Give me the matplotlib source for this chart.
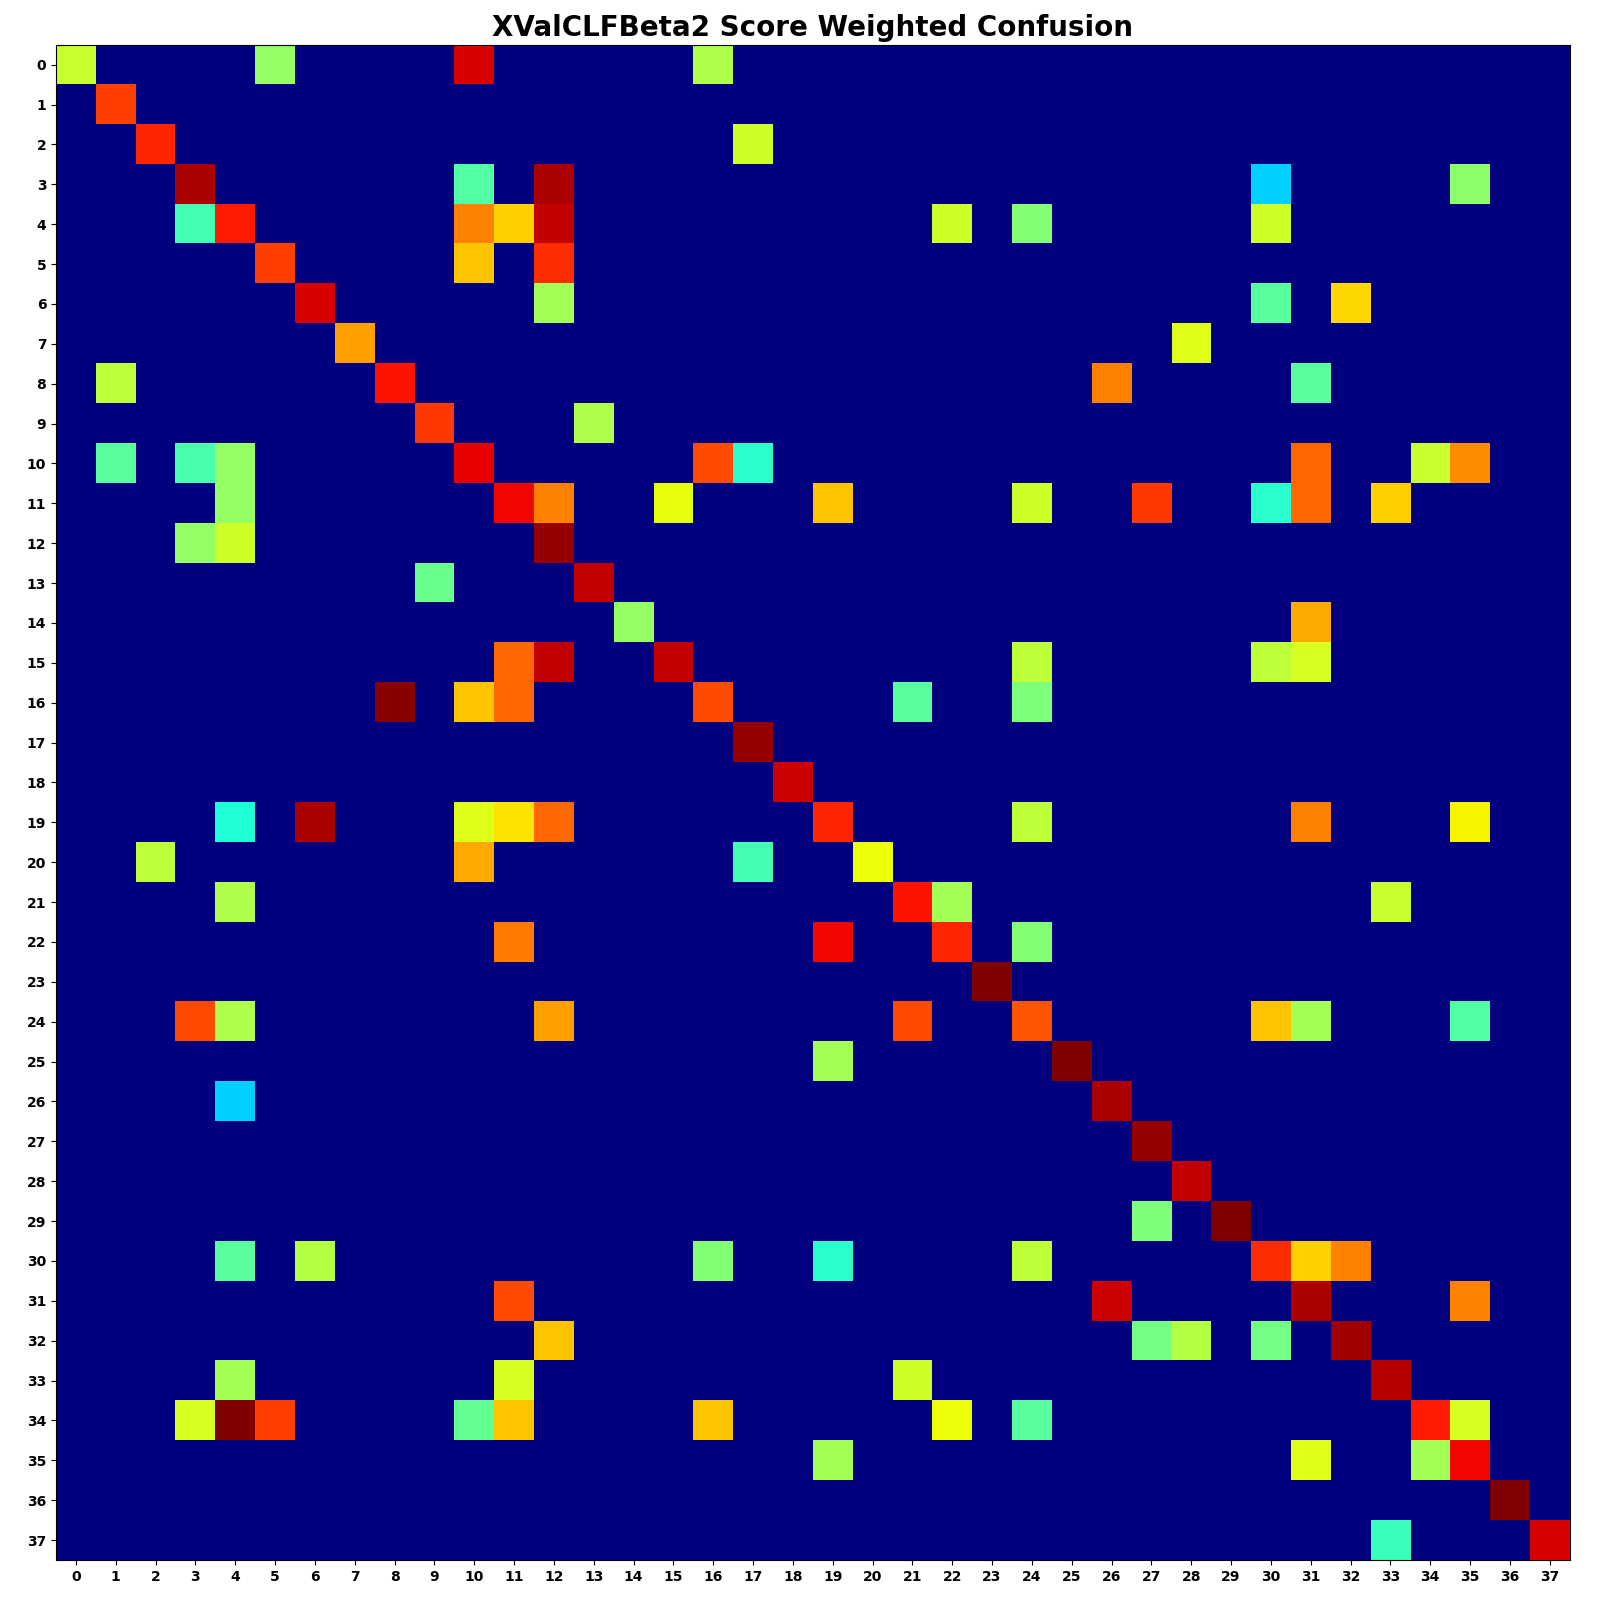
import numpy as np
import matplotlib
matplotlib.use("Agg")
import matplotlib.pyplot as plt

n_classes = 38
labels = [str(i) for i in range(n_classes)]

# nonzero cells of the weighted confusion matrix (row = true, col = predicted)
rows = [0, 0, 0, 0,
        1,
        2, 2,
        3, 3, 3, 3, 3,
        4, 4, 4, 4, 4, 4, 4, 4,
        5, 5, 5,
        6, 6, 6, 6,
        7, 7,
        8, 8, 8, 8,
        9, 9,
        10, 10, 10, 10, 10, 10, 10, 10, 10,
        11, 11, 11, 11, 11, 11, 11, 11, 11, 11,
        12, 12, 12,
        13, 13,
        14, 14,
        15, 15, 15, 15, 15, 15,
        16, 16, 16, 16, 16, 16,
        17,
        18,
        19, 19, 19, 19, 19, 19, 19, 19, 19,
        20, 20, 20, 20,
        21, 21, 21, 21,
        22, 22, 22, 22,
        23,
        24, 24, 24, 24, 24, 24, 24, 24,
        25, 25,
        26, 26,
        27,
        28,
        29, 29,
        30, 30, 30, 30, 30, 30, 30, 30,
        31, 31, 31, 31,
        32, 32, 32, 32, 32,
        33, 33, 33, 33,
        34, 34, 34, 34, 34, 34, 34, 34, 34, 34,
        35, 35, 35, 35,
        36,
        37, 37]
cols = [0, 5, 10, 16,
        1,
        2, 17,
        3, 10, 12, 30, 35,
        3, 4, 10, 11, 12, 22, 24, 30,
        5, 10, 12,
        6, 12, 30, 32,
        7, 28,
        1, 8, 26, 31,
        9, 13,
        1, 3, 4, 10, 16, 17, 31, 34, 35,
        4, 11, 12, 15, 19, 24, 27, 30, 31, 33,
        3, 4, 12,
        9, 13,
        14, 31,
        11, 12, 15, 24, 30, 31,
        8, 10, 11, 16, 21, 24,
        17,
        18,
        4, 6, 10, 11, 12, 19, 24, 31, 35,
        2, 10, 17, 20,
        4, 21, 22, 33,
        11, 19, 22, 24,
        23,
        3, 4, 12, 21, 24, 30, 31, 35,
        19, 25,
        4, 26,
        27,
        28,
        27, 29,
        4, 6, 16, 19, 24, 30, 31, 32,
        11, 26, 31, 35,
        12, 27, 28, 30, 32,
        4, 11, 21, 33,
        3, 4, 5, 10, 11, 16, 22, 24, 34, 35,
        19, 31, 34, 35,
        36,
        33, 37]
values = [0.59, 0.53, 0.92, 0.56,
          0.84,
          0.87, 0.60,
          0.96, 0.45, 0.96, 0.33, 0.52,
          0.43, 0.88, 0.77, 0.69, 0.94, 0.60, 0.51, 0.60,
          0.84, 0.70, 0.86,
          0.92, 0.55, 0.46, 0.68,
          0.74, 0.62,
          0.58, 0.89, 0.77, 0.46,
          0.85, 0.56,
          0.46, 0.44, 0.53, 0.91, 0.83, 0.40, 0.80, 0.59, 0.76,
          0.53, 0.90, 0.77, 0.63, 0.70, 0.60, 0.85, 0.40, 0.80, 0.69,
          0.53, 0.60, 0.98,
          0.48, 0.94,
          0.53, 0.73,
          0.80, 0.94, 0.94, 0.58, 0.58, 0.61,
          0.99, 0.70, 0.80, 0.83, 0.46, 0.50,
          0.98,
          0.93,
          0.39, 0.96, 0.62, 0.67, 0.80, 0.87, 0.58, 0.77, 0.65,
          0.58, 0.73, 0.43, 0.64,
          0.56, 0.89, 0.55, 0.59,
          0.78, 0.90, 0.87, 0.51,
          1.00,
          0.83, 0.56, 0.74, 0.83, 0.82, 0.70, 0.55, 0.45,
          0.55, 1.00,
          0.33, 0.96,
          0.98,
          0.94,
          0.50, 1.00,
          0.46, 0.57, 0.51, 0.40, 0.58, 0.86, 0.69, 0.77,
          0.83, 0.93, 0.96, 0.77,
          0.70, 0.49, 0.57, 0.49, 0.97,
          0.55, 0.61, 0.60, 0.95,
          0.61, 1.00, 0.84, 0.47, 0.70, 0.70, 0.64, 0.46, 0.88, 0.61,
          0.55, 0.62, 0.55, 0.90,
          1.00,
          0.42, 0.92]

# build the matrix
confusion = np.zeros((n_classes, n_classes))
for r, c, v in zip(rows, cols, values):
    confusion[r, c] = v

fig = plt.figure(figsize=(16, 16), dpi=100)
ax = fig.add_axes([0.035, 0.025, 0.946, 0.947])
ax.imshow(confusion, cmap='jet', vmin=0, vmax=1, interpolation='nearest', aspect='auto')

ax.set_xticks(range(n_classes))
ax.set_yticks(range(n_classes))
ax.set_xticklabels(labels, fontweight='bold', fontsize=10)
ax.set_yticklabels(labels, fontweight='bold', fontsize=10)
ax.set_title('XValCLFBeta2 Score Weighted Confusion', fontweight='bold', fontsize=20)

fig.savefig('out.png', dpi=100)
